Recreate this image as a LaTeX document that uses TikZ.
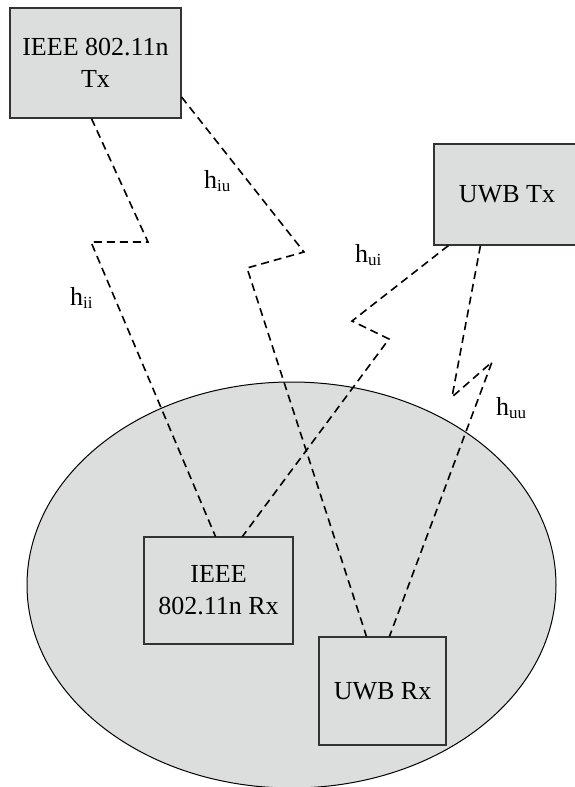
\documentclass[tikz,border=0pt]{standalone}
\usepackage{fontspec}
\setmainfont{Liberation Serif}
\usepackage{tikz}

\definecolor{cellgray}{RGB}{220,221,221}
\newcommand{\hch}[1]{h\raisebox{-0.3ex}{\fontsize{17}{17}\selectfont #1}}

\begin{document}
\begin{tikzpicture}[
    x=1pt, y=-1pt,
    dev/.style={draw=black!80, fill=cellgray, line width=1.1pt, align=center, inner sep=0pt,
                font=\fontsize{26}{32}\selectfont},
    chan/.style={dashed, dash pattern=on 8pt off 5pt, line width=1.6pt},
    lab/.style={anchor=base west, inner sep=0pt, font=\fontsize{26}{32}\selectfont}
  ]
    \useasboundingbox (0,0) rectangle (575,787);
    % coverage area of the receivers
    \draw[fill=cellgray, line width=1pt] (291.5,585) ellipse [x radius=264.5, y radius=203];
    \node[dev, minimum width=171pt, minimum height=110pt] (wtx) at (95.5,63) {IEEE 802.11n\\Tx};
    \node[dev, minimum width=146pt, minimum height=101pt] (utx) at (507,194.5) {UWB Tx};
    \node[dev, minimum width=149pt, minimum height=107pt] (wrx) at (218.5,590.5) {IEEE\\802.11n Rx};
    \node[dev, minimum width=127pt, minimum height=108pt] (urx) at (382.5,691) {UWB Rx};
    \draw[chan] ([xshift=82pt]wtx.south west) -- (148,242) -- (91,242) -- ([xshift=72pt]wrx.north west);
    \draw[chan] ([yshift=-34pt]wtx.east) -- (304,252) -- (247,268) -- ([xshift=48pt]urx.north west);
    \draw[chan] ([xshift=15pt]utx.south west) -- (352,321) -- (389,339) -- ([xshift=99pt]wrx.north west);
    \draw[chan] ([xshift=47pt]utx.south west) -- (452,397) -- (492,362) -- ([xshift=71pt]urx.north west);
    \node[lab] (hii) at (70,305) {\hch{ii}};
    \node[lab] (hiu) at (204,188) {\hch{iu}};
    \node[lab] (hui) at (355,262) {\hch{ui}};
    \node[lab] (huu) at (496,415) {\hch{uu}};
  \end{tikzpicture}
\end{document}
